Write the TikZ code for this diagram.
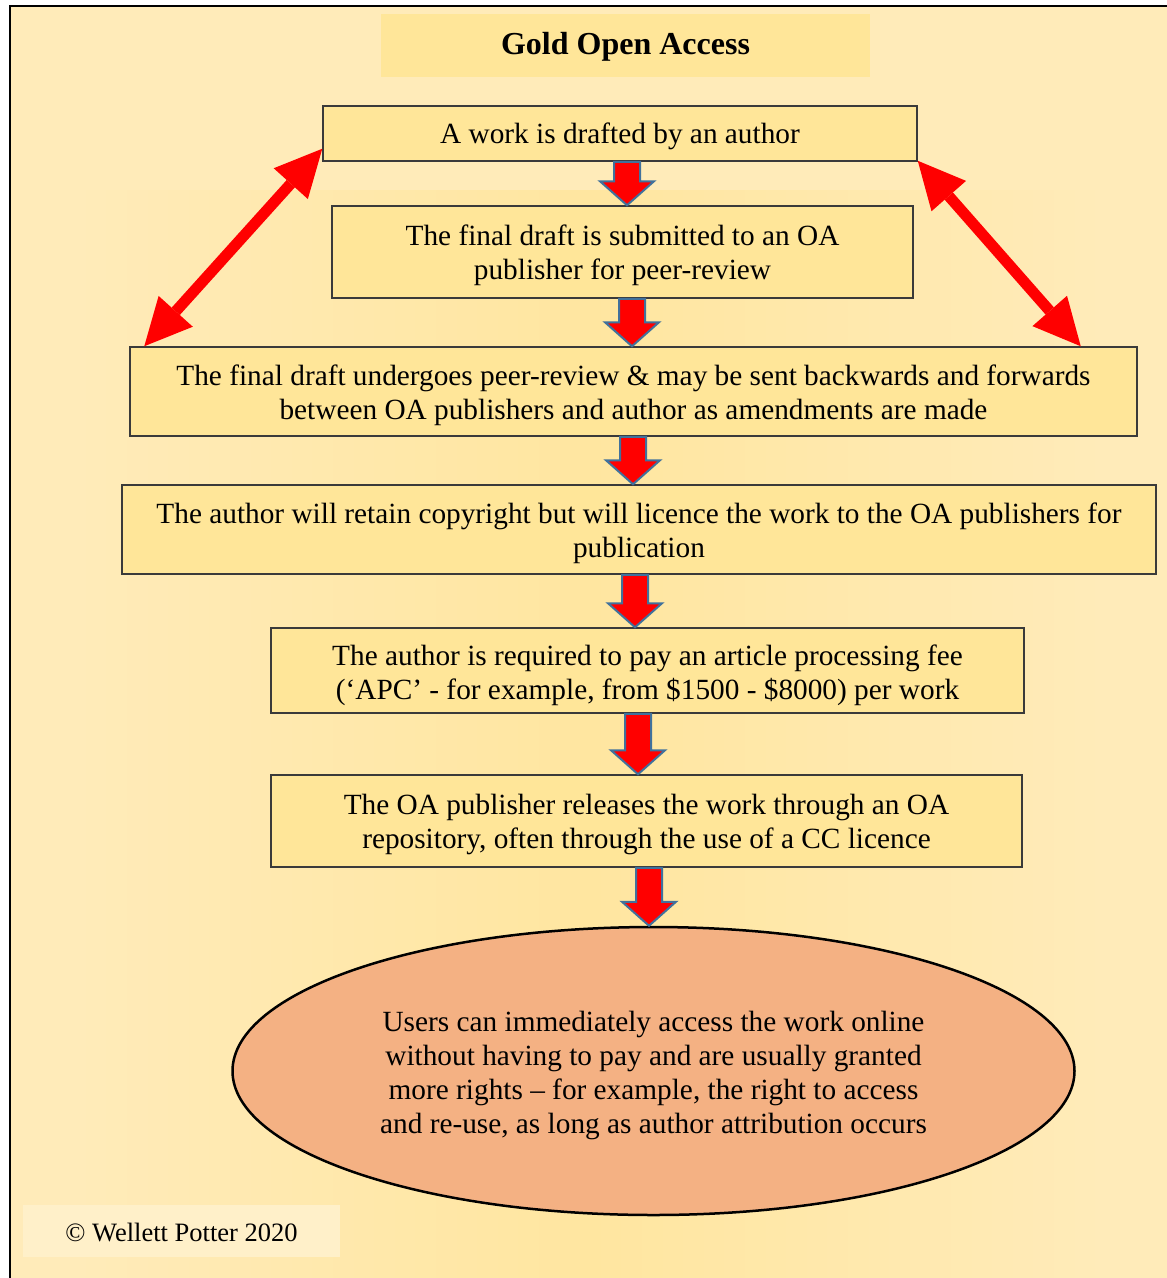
\documentclass[tikz,border=0pt]{standalone}
\usepackage{fontspec}
\setmainfont{Liberation Serif}
\usetikzlibrary{arrows.meta,shapes.geometric,calc}

\definecolor{pagebg}{HTML}{FFEBB9}
\definecolor{pagemid}{HTML}{FFE6A0}
\definecolor{boxfill}{HTML}{FFE699}
\definecolor{boxline}{HTML}{3A3A3A}
\definecolor{ellfill}{HTML}{F4B183}
\definecolor{arrline}{HTML}{41719C}
\definecolor{notefill}{HTML}{FFF0C9}

\tikzset{
  stage/.style={draw=boxline, line width=1.5pt, fill=boxfill, inner sep=0pt},
  stagetext/.style={align=center, inner sep=0pt, font=\fontsize{29.3}{34}\selectfont},
  titlebox/.style={fill=boxfill, inner sep=0pt, font=\fontsize{32}{38}\selectfont\bfseries},
  notebox/.style={fill=notefill, inner sep=0pt, font=\fontsize{26.5}{32}\selectfont},
  outcome/.style={shape=ellipse, draw=black, line width=2.5pt, fill=ellfill, inner sep=0pt},
  blockarr/.style={fill=red, draw=arrline, line width=2pt, line join=miter},
  loop/.style={draw=red, line width=11pt,
    {Triangle[length=47pt,width=46pt,line width=0pt]}-{Triangle[length=47pt,width=46pt,line width=0pt]}},
}

% downward block arrow at x=#1, from the bottom of node #2 to the top of node #3
\newcommand\flowstep[3]{%
  \draw[blockarr] let \p1=(#2.south), \p2=(#3.north) in
    ({#1pt-13pt},\y1) -- ({#1pt+13pt},\y1) -- ({#1pt+13pt},{\y2+24pt})
    -- ({#1pt+27pt},{\y2+24pt}) -- ({#1pt},\y2) -- ({#1pt-27pt},{\y2+24pt})
    -- ({#1pt-13pt},{\y2+24pt}) -- cycle;}

\begin{document}
\begin{tikzpicture}[x=1pt,y=-1pt]
\useasboundingbox (0,0) rectangle (1167,1278);
\fill[white] (0,0) rectangle (1167,1278);
% page background
\fill[pagebg] (10,6) rectangle (1167,1278);
\shade[left color=pagebg, right color=pagebg, middle color=pagemid] (75,190) rectangle (1105,1278);
\draw[line width=2.2pt, black] (1167,6) -- (10,6) -- (10,1278);

% title
\node[titlebox, minimum width=489pt, minimum height=63pt] (title) at (625.5,45.5) {};
\node[titlebox, fill=none] (titletext) at ([yshift=-1.5pt]title.center) {Gold Open Access};

% process stages
\node[stage, minimum width=594pt, minimum height=55pt] (s1) at (620,133.5) {};
\node[stage, minimum width=581pt, minimum height=92pt] (s2) at (622.5,252) {};
\node[stage, minimum width=1007pt, minimum height=89pt] (s3) at (633.5,391.5) {};
\node[stage, minimum width=1034pt, minimum height=89pt] (s4) at (639,529.5) {};
\node[stage, minimum width=753pt, minimum height=85pt] (s5) at (647.5,670.5) {};
\node[stage, minimum width=751pt, minimum height=92pt] (s6) at (646.5,821) {};
\node[outcome, minimum width=842pt, minimum height=288pt] (out) at (653.5,1071) {};

\node[stagetext] (t1) at ([yshift=-3pt]s1.center)
  {A work is drafted by an author};
\node[stagetext] (t2) at ([yshift=-3pt]s2.center)
  {The final draft is submitted to an OA\\publisher for peer-review};
\node[stagetext] (t3) at ([yshift=-4pt]s3.center)
  {The final draft undergoes peer-review \& may be sent backwards and forwards\\between OA publishers and author as amendments are made};
\node[stagetext] (t4) at ([yshift=-4pt]s4.center)
  {The author will retain copyright but will licence the work to the OA publishers for\\publication};
\node[stagetext] (t5) at ([yshift=-5pt]s5.center)
  {The author is required to pay an article processing fee\\(‘APC’ - for example, from \$1500 - \$8000) per work};
\node[stagetext] (t6) at ([yshift=-3pt]s6.center)
  {The OA publisher releases the work through an OA\\repository, often through the use of a CC licence};
\node[stagetext] (tout) at ([yshift=-4pt]out.center)
  {Users can immediately access the work online\\without having to pay and are usually granted\\more rights – for example, the right to access\\and re-use, as long as author attribution occurs};

% copyright note
\node[notebox, minimum width=317pt, minimum height=52pt] (note) at (181.5,1231) {};
\node[notebox, fill=none] (notetext) at ([yshift=-1pt]note.center) {© Wellett Potter 2020};

% flow arrows
\flowstep{627}{s1}{s2}
\flowstep{632}{s2}{s3}
\flowstep{633}{s3}{s4}
\flowstep{635}{s4}{s5}
\flowstep{638}{s5}{s6}
\flowstep{649}{s6}{out}

% review loops between author and publisher
\draw[loop] ([yshift=13pt]s1.south west) -- ([xshift=15pt]s3.north west);
\draw[loop] ([yshift=1pt]s1.south east) -- ([xshift=-57pt]s3.north east);
\end{tikzpicture}
\end{document}
